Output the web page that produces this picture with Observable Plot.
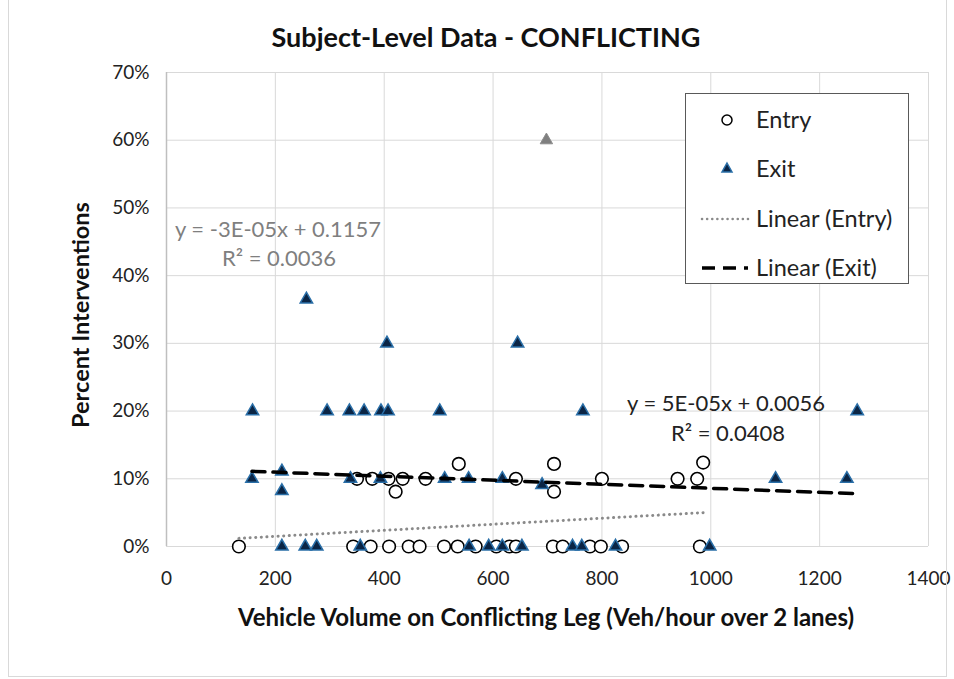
<!DOCTYPE html>
<html>
<head>
<meta charset="utf-8">
<script src="https://cdn.jsdelivr.net/npm/d3@7"></script>
<script src="https://cdn.jsdelivr.net/npm/@observablehq/plot@0.6"></script>
<style>
  html, body { margin: 0; padding: 0; background: #fff; }
  #wrap { position: relative; width: 954px; height: 679px; font-family: Lato, "Open Sans", sans-serif; overflow: hidden; }
  #wrap svg { position: absolute; left: 0; top: 0; }
  .ov { position: absolute; white-space: nowrap; line-height: 1.2; }
  #title { left: 486px; top: 37px; transform: translate(-50%, -50%); font-weight: bold; font-size: 27px; color: #111; }
  #xtitle { left: 546px; top: 617px; transform: translate(-50%, -50%); font-weight: bold; font-size: 24px; color: #111; }
  #ytitle { left: 80px; top: 315px; transform: translate(-50%, -50%) rotate(-90deg); font-weight: bold; font-size: 23.5px; color: #111; }
  .eq { font-size: 22px; transform: translate(-50%, -50%); }
  #legend { left: 685px; top: 93px; width: 222px; height: 189px; border: 1px solid #595959; background: #fff; }
  #border { left: 8px; top: -2px; width: 937px; height: 677px; border: 1px solid #d9d9d9; }
</style>
</head>
<body>
<div id="wrap">
  <div id="chart"></div>
  <div class="ov" id="border"></div>
  <div class="ov" id="title">Subject-Level Data - CONFLICTING</div>
  <div class="ov" id="xtitle">Vehicle Volume on Conflicting Leg (Veh/hour over 2 lanes)</div>
  <div class="ov" id="ytitle">Percent Interventions</div>
  <div class="ov eq" style="left:278px; top:229px; color:#7f7f7f;">y = -3E-05x + 0.1157</div>
  <div class="ov eq" style="left:279px; top:258px; color:#7f7f7f;">R² = 0.0036</div>
  <div class="ov eq" style="left:726px; top:403px; color:#222;">y = 5E-05x + 0.0056</div>
  <div class="ov eq" style="left:728px; top:433px; color:#222;">R² = 0.0408</div>
  <div class="ov" id="legend">
    <svg width="222" height="189" style="position:absolute;left:0;top:0;font-family:Lato,'Open Sans',sans-serif;font-size:23.5px;fill:#222;">
      <circle cx="41" cy="26" r="5" fill="#fff" stroke="#000" stroke-width="1.5"></circle>
      <text x="70" y="34">Entry</text>
      <path d="M41,69 L46,78 L36,78 Z" fill="#0b2545" stroke="#2a6fa8" stroke-width="1.5"></path>
      <text x="70" y="83">Exit</text>
      <line x1="16" x2="62" y1="125" y2="125" stroke="#8a8a8a" stroke-width="2.5" stroke-linecap="round" stroke-dasharray="0.1,5"></line>
      <text x="70" y="133">Linear (Entry)</text>
      <line x1="16" x2="62" y1="174" y2="174" stroke="#000" stroke-width="3.5" stroke-dasharray="13,8"></line>
      <text x="70" y="182">Linear (Exit)</text>
    </svg>
  </div>
</div>
<script>
// ---- data ----
const xTicks = [0, 200, 400, 600, 800, 1000, 1200, 1400];
const yTicks = [0, 0.1, 0.2, 0.3, 0.4, 0.5, 0.6, 0.7];

// Entry: vehicle volume and percent interventions
const entryX = [133, 343, 375, 409, 445, 465, 510, 535, 568, 606, 630, 642, 710, 728, 778, 798, 837, 980,
                350, 378, 408, 434, 476, 642, 800, 939, 975,
                421, 712,
                537, 712, 986];
const entryY = [0, 0, 0, 0, 0, 0, 0, 0, 0, 0, 0, 0, 0, 0, 0, 0, 0, 0,
                0.10, 0.10, 0.10, 0.10, 0.10, 0.10, 0.10, 0.10, 0.10,
                0.081, 0.081,
                0.122, 0.122, 0.124];

// Exit
const exitX = [212, 255, 276, 356, 556, 592, 617, 653, 746, 763, 825, 998,
               157, 338, 393, 511, 555, 617, 690, 1119, 1250,
               212, 212,
               158, 295, 336, 363, 394, 407, 502, 765, 1269,
               405, 645,
               257];
const exitY = [0, 0, 0, 0, 0, 0, 0, 0, 0, 0, 0, 0,
               0.10, 0.10, 0.10, 0.10, 0.10, 0.10, 0.091, 0.10, 0.10,
               0.111, 0.082,
               0.20, 0.20, 0.20, 0.20, 0.20, 0.20, 0.20, 0.20, 0.20,
               0.30, 0.30,
               0.365];

// Highlighted (grey) exit outlier
const outlierX = [698];
const outlierY = [0.60];

// Trendline end points
const entryTrendX = [133, 986];
const entryTrendY = [0.012, 0.050];
const exitTrendX = [157, 1269];
const exitTrendY = [0.111, 0.078];

const entry = entryX.map((x, i) => ({x, y: entryY[i]}));
const exit = exitX.map((x, i) => ({x, y: exitY[i]}));
const outlier = outlierX.map((x, i) => ({x, y: outlierY[i]}));
const entryTrend = entryTrendX.map((x, i) => ({x, y: entryTrendY[i]}));
const exitTrend = exitTrendX.map((x, i) => ({x, y: exitTrendY[i]}));

const chart = Plot.plot({
  width: 954,
  height: 679,
  marginLeft: 166,
  marginRight: 26,
  marginTop: 72,
  marginBottom: 133,
  style: { fontFamily: "Lato, 'Open Sans', sans-serif", fontSize: "19px", color: "#222", background: "transparent" },
  x: { domain: [0, 1400], ticks: xTicks, tickFormat: d => String(d), label: null, tickSize: 0, tickPadding: 25 },
  y: { domain: [0, 0.7], ticks: yTicks, tickFormat: d => Math.round(d * 100) + "%", label: null, tickSize: 0, tickPadding: 17 },
  marks: [
    Plot.gridX(xTicks, { stroke: "#d9d9d9", strokeOpacity: 1, strokeWidth: 1 }),
    Plot.gridY(yTicks, { stroke: "#d9d9d9", strokeOpacity: 1, strokeWidth: 1 }),
    Plot.ruleX([0], { stroke: "#bfbfbf", strokeWidth: 1.5 }),
    Plot.dot(entry, { x: "x", y: "y", r: 6.3, fill: "#fff", stroke: "#000", strokeWidth: 1.6 }),
    Plot.dot(exit, { x: "x", y: "y", symbol: "triangle", r: 4.6, fill: "#0b2545", stroke: "#2a6fa8", strokeWidth: 1.5 }),
    Plot.dot(outlier, { x: "x", y: "y", symbol: "triangle", r: 4.6, fill: "#7f7f7f", stroke: "#8c8c8c", strokeWidth: 1 }),
    Plot.line(entryTrend, { x: "x", y: "y", stroke: "#8a8a8a", strokeWidth: 3, strokeLinecap: "round", strokeDasharray: "0.1,5.5" }),
    Plot.line(exitTrend, { x: "x", y: "y", stroke: "#000", strokeWidth: 3.5, strokeDasharray: "13,8" })
  ]
});
document.getElementById("chart").appendChild(chart);
</script>
</body>
</html>
